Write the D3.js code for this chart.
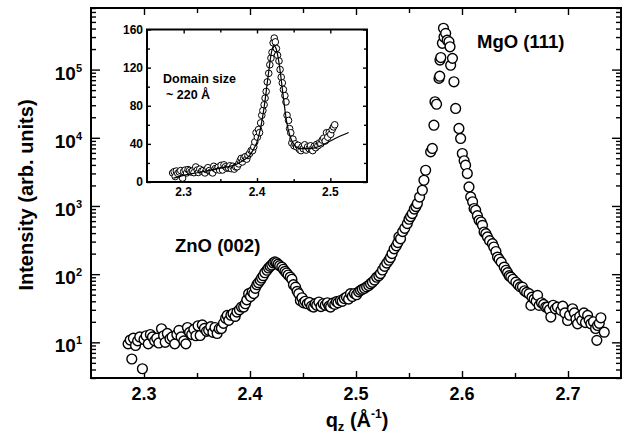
<!DOCTYPE html>
<html>
<head>
<meta charset="utf-8">
<script src="https://cdn.jsdelivr.net/npm/d3@7"></script>
<style>
  body { margin: 0; background: #fff; }
  svg { display: block; }
  text { font-family: "Liberation Sans", Arial, Helvetica, sans-serif; font-weight: bold; fill: #000; }
</style>
</head>
<body>
<svg id="chart" width="624" height="440"></svg>
<script>
// Measured scattering along q_z (Å^-1) and intensity (arb. units)
const qz = [
  2.2850, 2.2870, 2.2885, 2.2900, 2.2920, 2.2940, 2.2960, 2.2985, 2.3000, 2.3020,
  2.3040, 2.3060, 2.3080, 2.3100, 2.3120, 2.3140, 2.3165, 2.3185, 2.3200, 2.3220,
  2.3245, 2.3265, 2.3290, 2.3310, 2.3330, 2.3350, 2.3375, 2.3395, 2.3410, 2.3430,
  2.3450, 2.3470, 2.3490, 2.3510, 2.3530, 2.3550, 2.3570, 2.3590, 2.3610, 2.3630,
  2.3650, 2.3670, 2.3690, 2.3710, 2.3730, 2.3750, 2.3770, 2.3785, 2.3800, 2.3820,
  2.3840, 2.3860, 2.3877, 2.3900, 2.3920, 2.3940, 2.3956, 2.3970, 2.3987, 2.4005,
  2.4020, 2.4035, 2.4050, 2.4065, 2.4080, 2.4097, 2.4110, 2.4125, 2.4140, 2.4160,
  2.4175, 2.4190, 2.4205, 2.4220, 2.4235, 2.4250, 2.4265, 2.4280, 2.4300, 2.4315,
  2.4330, 2.4345, 2.4360, 2.4380, 2.4395, 2.4410, 2.4430, 2.4445, 2.4460, 2.4475,
  2.4490, 2.4505, 2.4520, 2.4540, 2.4560, 2.4580, 2.4600, 2.4615, 2.4630, 2.4650,
  2.4670, 2.4690, 2.4710, 2.4730, 2.4745, 2.4760, 2.4780, 2.4800, 2.4815, 2.4830,
  2.4853, 2.4870, 2.4890, 2.4910, 2.4930, 2.4948, 2.4965, 2.4985, 2.5005, 2.5025,
  2.5043, 2.5060, 2.5080, 2.5100, 2.5120, 2.5137, 2.5155, 2.5175, 2.5195, 2.5215,
  2.5231, 2.5250, 2.5270, 2.5290, 2.5310, 2.5325, 2.5340, 2.5360, 2.5380, 2.5395,
  2.5405, 2.5420, 2.5440, 2.5460, 2.5484, 2.5500, 2.5515, 2.5531, 2.5550, 2.5565,
  2.5579, 2.5600, 2.5626, 2.5641, 2.5657, 2.5704, 2.5720, 2.5735, 2.5745, 2.5760,
  2.5783, 2.5790, 2.5792, 2.5800, 2.5815, 2.5825, 2.5830, 2.5846, 2.5860, 2.5877,
  2.5887, 2.5893, 2.5910, 2.5924, 2.5940, 2.5971, 2.5987, 2.6003, 2.6020, 2.6034,
  2.6050, 2.6066, 2.6082, 2.6100, 2.6114, 2.6129, 2.6145, 2.6161, 2.6180, 2.6193,
  2.6208, 2.6225, 2.6240, 2.6260, 2.6287, 2.6300, 2.6320, 2.6335, 2.6350, 2.6370,
  2.6398, 2.6415, 2.6430, 2.6445, 2.6460, 2.6480, 2.6508, 2.6530, 2.6550, 2.6570,
  2.6590, 2.6610, 2.6633, 2.6650, 2.6660, 2.6680, 2.6700, 2.6713, 2.6728, 2.6750,
  2.6770, 2.6790, 2.6807, 2.6825, 2.6838, 2.6860, 2.6880, 2.6900, 2.6933, 2.6950,
  2.6970, 2.6996, 2.7015, 2.7043, 2.7060, 2.7075, 2.7090, 2.7110, 2.7130, 2.7150,
  2.7165, 2.7185, 2.7200, 2.7216, 2.7240, 2.7260, 2.7272, 2.7279, 2.7295, 2.7310,
  2.7342
];
const intensity = [
  9.5, 10.8, 5.7, 11.5, 9.0, 10.5, 12.0, 4.1, 11.0, 12.5,
  9.5, 13.0, 12.0, 10.5, 11.5, 9.8, 15.8, 12.5, 10.0, 13.5,
  11.3, 12.0, 9.5, 13.0, 15.0, 12.0, 10.5, 9.5, 16.5, 14.0,
  13.0, 15.5, 12.5, 17.5, 12.6, 18.0, 16.0, 14.5, 15.0, 17.0,
  14.0, 16.5, 13.5, 15.8, 16.0, 19.0, 22.5, 24.8, 21.0, 25.0,
  26.5, 24.0, 27.8, 30.0, 33.0, 32.9, 36.9, 42.0, 51.7, 47.0,
  55.0, 51.8, 62.0, 70.0, 75.0, 81.0, 88.0, 95.0, 105.0, 114.0,
  123.0, 130.0, 136.0, 146.0, 151.0, 147.0, 140.0, 133.0, 127.0, 118.0,
  110.0, 104.0, 97.0, 90.6, 84.0, 70.0, 64.6, 56.0, 51.7, 41.0,
  45.0, 38.0, 40.0, 36.8, 38.5, 34.0, 32.9, 37.0, 35.0, 39.0,
  33.5, 36.8, 35.0, 38.0, 34.0, 32.9, 37.5, 36.0, 39.5, 38.0,
  41.0, 40.0, 44.0, 46.0, 43.0, 51.7, 47.0, 52.0, 50.0, 55.0,
  57.8, 60.0, 62.0, 65.0, 68.0, 72.5, 76.0, 82.0, 90.0, 95.0,
  102.0, 115.0, 130.0, 145.0, 160.0, 175.0, 200.0, 235.0, 260.0, 290.0,
  351.0, 330.0, 420.0, 470.0, 551.0, 640.0, 700.0, 773.0, 900.0, 980.0,
  1084, 1350, 1700, 2380, 3340, 6210, 6970, 15300, 33700, 31000,
  74300, 80000, 138000, 150000, 243000, 403000, 300000, 340000, 270000, 256000,
  216000, 116000, 146000, 66200, 26900, 13700, 9770, 5880, 4600, 3960,
  2990, 1900, 1355, 1150, 916, 865, 720, 617, 582, 520,
  415, 393, 351, 310, 280, 250, 215, 178, 165, 150,
  127, 114, 105, 95, 90.6, 84, 76.5, 70, 65, 64.6,
  57, 54, 51.7, 34.8, 46, 43, 40, 48.9, 34.8, 38,
  36, 33, 32.9, 30, 23.5, 35, 31, 32.9, 29.4, 34,
  27, 20.9, 25, 31.1, 27, 22, 18.7, 24, 21, 27,
  19.5, 24.8, 21, 18.7, 20, 16, 10.7, 17.7, 19, 22.9,
  14.1
];

// Line-shape fit through the ZnO (002) region (linear inset)
const fitQ = [2.286, 2.300, 2.320, 2.340, 2.360, 2.370, 2.380, 2.390, 2.395, 2.400,
              2.405, 2.410, 2.415, 2.420, 2.423, 2.426, 2.430, 2.435, 2.440, 2.445,
              2.450, 2.455, 2.460, 2.470, 2.480, 2.490, 2.500, 2.510, 2.525];
const fitI = [4, 7, 10, 13, 16, 18, 22, 28, 34, 42,
              57, 80, 110, 137, 143, 140, 125, 95, 65, 48,
              40, 36, 35, 35, 36, 39, 43, 47, 52];

// Tick values and labels
const xTickValues = [2.3, 2.4, 2.5, 2.6, 2.7];
const xTickLabels = ["2.3", "2.4", "2.5", "2.6", "2.7"];
const xMinorValues = [2.35, 2.45, 2.55, 2.65];
const yDecadeValues = [1e1, 1e2, 1e3, 1e4, 1e5];
const yDecadeExponents = ["1", "2", "3", "4", "5"];
const insetXTickValues = [2.3, 2.4, 2.5];
const insetXTickLabels = ["2.3", "2.4", "2.5"];
const insetXMinorValues = [2.35, 2.45];
const insetYTickValues = [0, 40, 80, 120, 160];
const insetYTickLabels = ["0", "40", "80", "120", "160"];
const insetYMinorValues = [20, 60, 100, 140];

const svg = d3.select("#chart");

// ---- main panel ----
const box = { left: 91, right: 621, top: 8, bottom: 378 };
const x = d3.scaleLinear().domain([2.25, 2.75]).range([box.left, box.right]);
const y = d3.scaleLog().domain([3, 8e5]).range([box.bottom, box.top]);

// minor log ticks: 2..9 within each decade that falls inside the domain
const yMinorValues = [];
for (let k = 0; k <= 5; k++) {
  for (let m = 2; m <= 9; m++) {
    const v = m * Math.pow(10, k);
    if (v >= y.domain()[0] && v <= y.domain()[1]) yMinorValues.push(v);
  }
}

function tickRow(parent, axis, tx, ty, values, size) {
  const g = parent.append("g")
    .attr("transform", `translate(${tx},${ty})`)
    .call(axis.tickValues(values).tickSize(size).tickSizeOuter(0).tickFormat(""));
  g.select(".domain").remove();
  g.selectAll("line").attr("stroke", "#000").attr("stroke-width", 1.4);
  g.selectAll("text").remove();
  return g;
}

const axes = svg.append("g");
tickRow(axes, d3.axisBottom(x), 0, box.bottom, xTickValues, -7);
tickRow(axes, d3.axisBottom(x), 0, box.bottom, xMinorValues, -5);
tickRow(axes, d3.axisTop(x), 0, box.top, xTickValues, -7);
tickRow(axes, d3.axisTop(x), 0, box.top, xMinorValues, -5);
tickRow(axes, d3.axisLeft(y), box.left, 0, yDecadeValues, -9);
tickRow(axes, d3.axisLeft(y), box.left, 0, yMinorValues, -5);
tickRow(axes, d3.axisRight(y), box.right, 0, yDecadeValues, -9);
tickRow(axes, d3.axisRight(y), box.right, 0, yMinorValues, -5);

axes.append("rect")
  .attr("x", box.left).attr("y", box.top)
  .attr("width", box.right - box.left).attr("height", box.bottom - box.top)
  .attr("fill", "none").attr("stroke", "#000").attr("stroke-width", 2);

// x tick labels
svg.append("g").selectAll("text").data(xTickValues).join("text")
  .attr("x", d => x(d)).attr("y", 400)
  .attr("text-anchor", "middle").attr("font-size", 18)
  .text((d, i) => xTickLabels[i]);

// y tick labels: 10^n
const yl = svg.append("g").selectAll("text").data(yDecadeValues).join("text")
  .attr("x", 82).attr("y", d => y(d) + 10)
  .attr("text-anchor", "end").attr("font-size", 19);
yl.append("tspan").text("10");
yl.append("tspan").attr("font-size", 11).attr("dy", -8).text((d, i) => yDecadeExponents[i]);

// axis titles
svg.append("text")
  .attr("transform", "translate(33,195) rotate(-90)")
  .attr("text-anchor", "middle").attr("font-size", 20)
  .text("Intensity (arb. units)");

const xt = svg.append("text").attr("x", 357).attr("y", 427)
  .attr("text-anchor", "middle").attr("font-size", 20);
xt.append("tspan").text("q");
xt.append("tspan").attr("font-size", 13).attr("dy", 4).text("z");
xt.append("tspan").attr("dy", -4).text(" (Å");
xt.append("tspan").attr("font-size", 12).attr("dy", -9).text("-1");
xt.append("tspan").attr("dy", 9).text(")");

// peak annotations
svg.append("text").attr("x", 477).attr("y", 48).attr("font-size", 18.5).text("MgO (111)");
svg.append("text").attr("x", 175).attr("y", 252).attr("font-size", 18.5).text("ZnO (002)");

// data points
const points = qz.map((q, i) => ({ q, v: intensity[i] }));
svg.append("g").selectAll("circle").data(points).join("circle")
  .attr("cx", d => x(d.q)).attr("cy", d => y(d.v)).attr("r", 4.9)
  .attr("fill", "#fff").attr("stroke", "#000").attr("stroke-width", 1.4);

// ---- inset: linear view of the ZnO (002) peak ----
const ib = { left: 147, right: 367, top: 29.5, bottom: 182 };
const xi = d3.scaleLinear().domain([2.25, 2.55]).range([ib.left, ib.right]);
const yi = d3.scaleLinear().domain([0, 160]).range([ib.bottom, ib.top]);

const inset = svg.append("g");
inset.append("rect")
  .attr("x", ib.left).attr("y", ib.top)
  .attr("width", ib.right - ib.left).attr("height", ib.bottom - ib.top)
  .attr("fill", "#fff");

tickRow(inset, d3.axisBottom(xi), 0, ib.bottom, insetXTickValues, -4);
tickRow(inset, d3.axisBottom(xi), 0, ib.bottom, insetXMinorValues, -3);
tickRow(inset, d3.axisTop(xi), 0, ib.top, insetXTickValues, -4);
tickRow(inset, d3.axisTop(xi), 0, ib.top, insetXMinorValues, -3);
tickRow(inset, d3.axisLeft(yi), ib.left, 0, insetYTickValues, -4);
tickRow(inset, d3.axisLeft(yi), ib.left, 0, insetYMinorValues, -3);
tickRow(inset, d3.axisRight(yi), ib.right, 0, insetYTickValues, -4);
tickRow(inset, d3.axisRight(yi), ib.right, 0, insetYMinorValues, -3);

const insetPts = points.filter(d => d.q <= 2.506);
inset.append("g").selectAll("circle").data(insetPts).join("circle")
  .attr("cx", d => xi(d.q)).attr("cy", d => yi(d.v)).attr("r", 3.3)
  .attr("fill", "#fff").attr("stroke", "#000").attr("stroke-width", 1);

const fitLine = d3.line().x(d => xi(d[0])).y(d => yi(d[1])).curve(d3.curveMonotoneX);
inset.append("path")
  .datum(fitQ.map((q, i) => [q, fitI[i]]))
  .attr("d", fitLine).attr("fill", "none").attr("stroke", "#000").attr("stroke-width", 1.2);

inset.append("rect")
  .attr("x", ib.left).attr("y", ib.top)
  .attr("width", ib.right - ib.left).attr("height", ib.bottom - ib.top)
  .attr("fill", "none").attr("stroke", "#000").attr("stroke-width", 2);

inset.append("g").selectAll("text").data(insetXTickValues).join("text")
  .attr("x", d => xi(d)).attr("y", 196)
  .attr("text-anchor", "middle").attr("font-size", 12)
  .text((d, i) => insetXTickLabels[i]);

inset.append("g").selectAll("text").data(insetYTickValues).join("text")
  .attr("x", 143).attr("y", d => yi(d) + 4)
  .attr("text-anchor", "end").attr("font-size", 12)
  .text((d, i) => insetYTickLabels[i]);

inset.append("text").attr("x", 163).attr("y", 83).attr("font-size", 12.5).text("Domain size");
inset.append("text").attr("x", 166).attr("y", 99).attr("font-size", 12.5).text("~ 220 Å");
</script>
</body>
</html>
